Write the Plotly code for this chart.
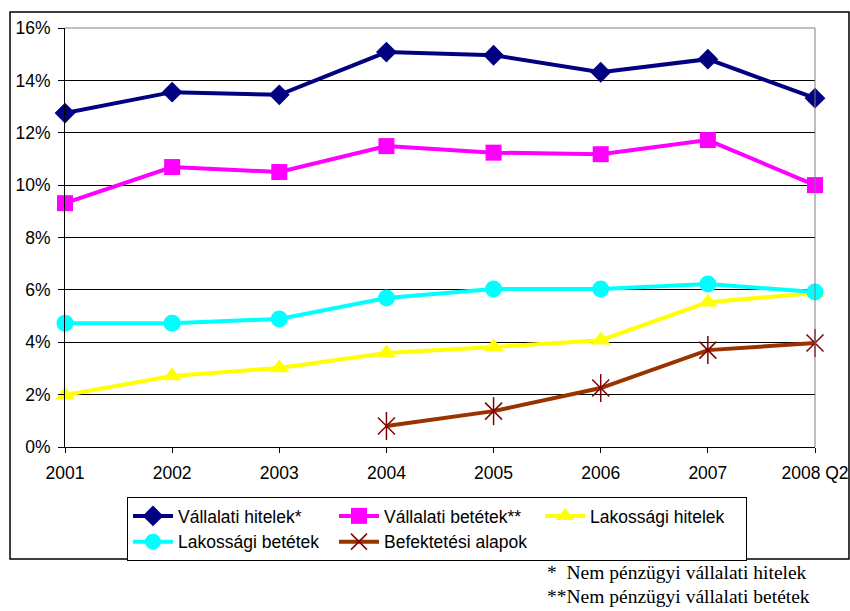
import plotly.graph_objects as go

years = ["2001", "2002", "2003", "2004", "2005", "2006", "2007", "2008 Q2"]
vall_hitelek = [12.75, 13.55, 13.45, 15.08, 14.96, 14.31, 14.81, 13.32]
vall_betetek = [9.31, 10.69, 10.50, 11.49, 11.24, 11.18, 11.72, 10.0]
lak_hitelek = [1.98, 2.71, 3.02, 3.59, 3.82, 4.08, 5.53, 5.88]
lak_betetek = [4.73, 4.73, 4.89, 5.69, 6.03, 6.03, 6.22, 5.92]
bef_years = ["2004", "2005", "2006", "2007", "2008 Q2"]
bef_alapok = [0.80, 1.37, 2.25, 3.70, 3.97]
y_ticks = [0, 2, 4, 6, 8, 10, 12, 14, 16]
y_ticklabels = [f"{v}%" for v in y_ticks]
footnotes = ["*  Nem pénzügyi vállalati hitelek", "**Nem pénzügyi vállalati betétek"]

fig = go.Figure()
fig.add_trace(go.Scatter(x=years, y=vall_hitelek, name="Vállalati hitelek*", mode="lines+markers",
                         line=dict(color="#000080", width=4),
                         marker=dict(symbol="diamond", size=16, color="#000080"), cliponaxis=False))
fig.add_trace(go.Scatter(x=years, y=vall_betetek, name="Vállalati betétek**", mode="lines+markers",
                         line=dict(color="#FF00FF", width=4),
                         marker=dict(symbol="square", size=16, color="#FF00FF"), cliponaxis=False))
fig.add_trace(go.Scatter(x=years, y=lak_hitelek, name="Lakossági hitelek", mode="lines+markers",
                         line=dict(color="#FFFF00", width=4),
                         marker=dict(symbol="triangle-up", size=17, color="#FFFF00"), cliponaxis=False))
fig.add_trace(go.Scatter(x=years, y=lak_betetek, name="Lakossági betétek", mode="lines+markers",
                         line=dict(color="#00FFFF", width=4),
                         marker=dict(symbol="circle", size=17, color="#00FFFF"), cliponaxis=False))
fig.add_trace(go.Scatter(x=bef_years, y=bef_alapok, name="Befektetési alapok", mode="lines+markers",
                         line=dict(color="#993300", width=4),
                         marker=dict(symbol="x-thin-open", size=17, color="#800000",
                                     line=dict(color="#800000", width=1.5)), cliponaxis=False))
fig.add_trace(go.Scatter(x=bef_years, y=bef_alapok, mode="markers", showlegend=False, hoverinfo="skip",
                         marker=dict(symbol="line-ns-open", size=20, color="#800000",
                                     line=dict(color="#800000", width=1.5)), cliponaxis=False))

# outer frame and plot borders
fig.add_shape(type="rect", xref="paper", yref="paper", x0=-0.0733, x1=1.0453, y0=-0.2673, y1=1.0382,
              line=dict(color="#000000", width=1.5), layer="below")
fig.add_shape(type="line", xref="paper", yref="paper", x0=1, x1=1, y0=0, y1=1,
              line=dict(color="#808080", width=1))
fig.add_shape(type="line", xref="paper", yref="paper", x0=0, x1=1, y0=1, y1=1,
              line=dict(color="#808080", width=1))

for txt, yy in zip(footnotes, [572, 596]):
    fig.add_annotation(text=txt, xref="paper", yref="paper",
                       x=(545 - 65) / 750, y=(447 - yy) / 419, xanchor="left", yanchor="middle",
                       showarrow=False, font=dict(family="Liberation Serif", size=19.5, color="#000"))

fig.update_layout(
    width=850, height=611,
    margin=dict(l=65, r=35, t=28, b=164, autoexpand=False),
    paper_bgcolor="white", plot_bgcolor="white",
    font=dict(family="Liberation Sans, Arial", size=17.5, color="#000"),
    showlegend=True,
    legend=dict(orientation="h", x=(127 - 65) / 750, y=(447 - 497) / 419, xanchor="left", yanchor="top",
                bordercolor="#000", borderwidth=1, bgcolor="white",
                font=dict(size=17.5), itemwidth=40, entrywidth=151, entrywidthmode="pixels",
                tracegroupgap=0),
    xaxis=dict(type="category", range=[0, 7], showgrid=False, showline=True, linecolor="#000",
               linewidth=1, ticks="outside", ticklen=5, tickcolor="#000", tickfont=dict(size=17.5),
               ticklabelstandoff=5, zeroline=False, automargin=False),
    yaxis=dict(range=[0, 16], tickvals=y_ticks, ticktext=y_ticklabels, showgrid=True,
               gridcolor="#000", gridwidth=1, showline=True, linecolor="#000", linewidth=1,
               ticks="outside", ticklen=6, tickcolor="#000", tickfont=dict(size=17.5),
               ticklabelstandoff=4, zeroline=False, automargin=False),
)

fig.write_html(
    "out.html",
    config={"displayModeBar": False, "responsive": False},
    post_script="document.documentElement.style.overflow='hidden';document.body.style.margin='0';document.body.style.overflow='hidden';",
)
